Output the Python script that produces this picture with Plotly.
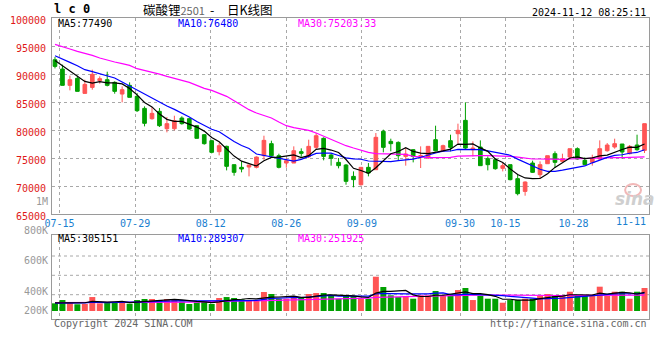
import plotly.graph_objects as go

# ---------------- data ----------------
DATES = ["07-12", "07-15", "07-16", "07-17", "07-18", "07-19", "07-22", "07-23", "07-24", "07-25",
         "07-26", "07-29", "07-30", "07-31", "08-01", "08-02", "08-05", "08-06", "08-07", "08-08",
         "08-09", "08-12", "08-13", "08-14", "08-15", "08-16", "08-19", "08-20", "08-21", "08-22",
         "08-23", "08-26", "08-27", "08-28", "08-29", "08-30", "09-02", "09-03", "09-04", "09-05",
         "09-06", "09-09", "09-10", "09-11", "09-12", "09-13", "09-18", "09-19", "09-20", "09-23",
         "09-24", "09-25", "09-26", "09-27", "09-30", "10-08", "10-09", "10-10", "10-11", "10-14",
         "10-15", "10-16", "10-17", "10-18", "10-21", "10-22", "10-23", "10-24", "10-25", "10-28",
         "10-29", "10-30", "10-31", "11-01", "11-04", "11-05", "11-06", "11-07", "11-08", "11-11"]

OPEN = [92550, 90890, 87970, 89220, 86540, 87610, 88800, 88980, 88510, 86420,
        87970, 86010, 83860, 82020, 83330, 80230, 80230, 82140, 82020, 80770,
        79160, 78090, 76130, 77080, 73810, 73330, 73390, 73330, 75410, 77560,
        75410, 74100, 74100, 76130, 75230, 76900, 78510, 75530, 74220, 73750,
        71720, 70230, 73330, 72910, 79760, 77970, 77790, 75290, 76480, 75290,
        75000, 78270, 76300, 78090, 79340, 81720, 76480, 76960, 74880, 74700,
        73150, 73810, 71310, 69040, 74100, 72020, 73980, 75770, 74400, 75170,
        76660, 74580, 74220, 74820, 76300, 76960, 77500, 75770, 77320, 76360]
HIGH = [93030, 91660, 89700, 89700, 88980, 90770, 89580, 90410, 88690, 87790,
        88510, 86600, 84220, 84100, 83920, 82320, 82550, 82440, 82140, 80890,
        79280, 78270, 77670, 77200, 73810, 74400, 73750, 75290, 78980, 78090,
        75770, 75000, 77080, 76720, 78270, 79460, 78690, 75830, 75000, 73920,
        72610, 73330, 74100, 79460, 80060, 78450, 77970, 76780, 76600, 77080,
        77080, 80770, 77380, 79160, 81130, 84940, 77970, 78150, 75290, 75000,
        74100, 73810, 72020, 70830, 74520, 74400, 75410, 76190, 75770, 76660,
        76900, 75110, 75590, 78150, 77670, 78450, 77500, 77320, 79160, 81130]
LOW = [91000, 87970, 87080, 86900, 86540, 87200, 88270, 87790, 86480, 84940,
       85830, 83210, 80650, 81840, 80530, 79580, 79940, 80950, 80050, 78510,
       77380, 75830, 75470, 72790, 71840, 72440, 71720, 73150, 74700, 75290,
       73150, 73270, 74100, 75230, 75000, 76600, 74580, 73630, 73150, 70230,
       69760, 70060, 71720, 72910, 76010, 76190, 74580, 73630, 74220, 73210,
       74820, 76190, 76130, 76190, 77560, 76600, 75290, 73630, 72790, 72910,
       72610, 71010, 68330, 68270, 72320, 71420, 73980, 73210, 74220, 74820,
       74700, 73810, 73630, 74700, 76130, 76660, 74880, 75650, 76300, 75890]
CLOSE = [91360, 87970, 88980, 86900, 88150, 89940, 89160, 87970, 86900, 87200,
         85830, 83450, 81190, 82970, 80770, 81130, 81660, 81130, 80170, 78510,
         77560, 76010, 77200, 73510, 72440, 73030, 73750, 75170, 78150, 75410,
         73330, 74520, 76300, 75830, 77080, 78980, 75290, 74940, 73630, 70830,
         71130, 73330, 72320, 78690, 76900, 77560, 75410, 75710, 75290, 75410,
         77080, 76300, 77200, 76900, 79940, 76780, 76780, 73630, 73810, 73090,
         73630, 71130, 68630, 70710, 72440, 73810, 75410, 74220, 74880, 76660,
         74820, 73810, 75000, 76660, 77320, 77560, 76070, 77080, 76480, 81130]

MA5 = [92430, 91480, 90470, 89580, 88670, 88390, 88630, 88420, 88420, 88230,
       87410, 86270, 84910, 84130, 82840, 81900, 81540, 81530, 80970, 80520,
       79800, 78670, 77890, 76560, 75340, 74440, 73980, 73580, 74510, 75100,
       75160, 75320, 75540, 75080, 75410, 76540, 76700, 76420, 75980, 74730,
       73160, 72770, 72250, 73260, 74470, 75760, 76170, 76850, 76170, 75880,
       75780, 75960, 76260, 76580, 77480, 77420, 77520, 76800, 76190, 74820,
       74190, 73060, 72060, 71440, 71300, 71340, 72200, 73320, 74150, 75000,
       75200, 74880, 75030, 75390, 75520, 76070, 76520, 76940, 76900, 77490]
MA10 = [93270, 92730, 92080, 91480, 90770, 90410, 90050, 89700, 89280, 88570,
        87850, 87170, 86340, 85750, 85030, 84290, 83680, 83070, 82340, 81520,
        80810, 80140, 79700, 78810, 77950, 77220, 76700, 75720, 75470, 75170,
        74900, 74610, 74450, 74750, 75280, 75810, 75890, 75880, 75440, 75030,
        74860, 74780, 74460, 74450, 74440, 74370, 74530, 74620, 74800, 75140,
        75560, 75890, 76220, 76250, 76550, 76540, 76610, 76480, 76280, 76020,
        75820, 75500, 74800, 74200, 73580, 72990, 72620, 72620, 72820, 73090,
        73240, 73580, 74140, 74640, 75100, 75460, 75580, 75850, 75990, 76480]
MA30 = [95290, 94930, 94460, 94040, 93690, 93330, 92850, 92440, 92140, 91840,
        91540, 90950, 90650, 90350, 89990, 89580, 89160, 88860, 88510, 87950,
        87440, 87080, 86600, 86010, 85230, 84460, 83630, 83030, 82560, 82140,
        81420, 80770, 80410, 80170, 79940, 79460, 78860, 78390, 77790, 77200,
        76780, 76360, 76010, 75770, 75770, 75710, 75710, 75650, 75290, 75110,
        75060, 75060, 75060, 75110, 75350, 75410, 75410, 75410, 75410, 75410,
        75350, 75290, 75170, 74940, 74820, 74820, 74760, 74700, 74760, 74820,
        74880, 74880, 74940, 75000, 75000, 75060, 75060, 75110, 75170, 75203.33]

VOLUME = [90000, 155000, 116000, 71000, 77000, 214000, 90000, 116000, 110000, 116000,
          82000, 155000, 175000, 175000, 155000, 175000, 155000, 122000, 77000, 110000,
          136000, 77000, 195000, 214000, 195000, 169000, 155000, 149000, 313000, 274000,
          181000, 181000, 214000, 195000, 274000, 293000, 293000, 234000, 181000, 248000,
          234000, 181000, 181000, 615000, 412000, 248000, 214000, 234000, 181000, 248000,
          248000, 333000, 234000, 274000, 352000, 392000, 155000, 234000, 181000, 181000,
          102000, 155000, 155000, 181000, 181000, 234000, 274000, 234000, 234000, 319000,
          234000, 234000, 248000, 418000, 234000, 319000, 319000, 181000, 319000, 392000]
VOL_MA5 = [100000, 102000, 104000, 102000, 101800, 126600, 113600, 113600, 121400, 129200,
           102800, 115800, 127600, 140600, 148400, 167000, 167000, 156400, 136800, 127800,
           120000, 104400, 119000, 146400, 163400, 170000, 185600, 176400, 196200, 212000,
           214400, 219600, 232600, 209000, 209000, 231400, 253800, 257800, 255000, 249800,
           238000, 215600, 205000, 291800, 324600, 327400, 334000, 344600, 257800, 225000,
           225000, 248800, 248800, 267400, 288200, 317000, 281400, 281400, 262800, 228600,
           170600, 170600, 154800, 154800, 154800, 181200, 205000, 220800, 231400, 259000,
           259000, 251000, 253800, 290600, 273600, 290600, 307600, 294200, 274400, 305151]
VOL_MA10 = [92000, 92000, 92000, 93000, 100000, 112000, 105000, 105000, 108000, 115500,
            114700, 114700, 120600, 131000, 138800, 134900, 141400, 142000, 138700, 138100,
            143500, 135700, 137700, 141600, 145600, 145000, 145000, 147700, 171300, 187700,
            192200, 202600, 204500, 202600, 210500, 222900, 236700, 245200, 232000, 229400,
            234700, 234700, 231400, 273400, 287200, 282700, 274800, 274800, 274800, 274800,
            276200, 291400, 296700, 262600, 256600, 271000, 265100, 265100, 265100, 258400,
            243800, 226000, 218100, 208800, 191700, 175900, 187800, 187800, 193100, 206900,
            220100, 228000, 237300, 261000, 266300, 274800, 279300, 274000, 282500, 289307]
VOL_MA30 = [102000, 102000, 103000, 103000, 104000, 104000, 105000, 105000, 106000, 106000,
            107000, 108000, 109000, 110000, 111000, 112000, 112000, 113000, 114000, 115000,
            118000, 121000, 124000, 127000, 130000, 133000, 136000, 139000, 143000, 147100,
            150100, 151000, 154300, 158400, 165000, 167600, 174400, 178300, 180700, 185100,
            190100, 191000, 191200, 205900, 214400, 216900, 218800, 222600, 226000, 230600,
            234400, 242900, 244200, 246200, 251400, 258900, 258900, 261700, 257300, 254200,
            251600, 250700, 248700, 248300, 245200, 243200, 242600, 242600, 244300, 246700,
            246700, 248500, 250700, 244100, 238200, 240600, 244100, 242300, 246900, 251925]

TICK_DATES = ["07-15", "07-29", "08-12", "08-26", "09-09", "09-30", "10-15", "10-28", "11-11"]
PRICE_TICKS = [65000, 70000, 75000, 80000, 85000, 90000, 95000, 100000]
VOL_LABELS = ["1M", "800K", "600K", "400K", "200K"]

TITLE_CODE = "l c 0"
TITLE_NAME = "碳酸锂"
TITLE_CONTRACT = "2501"
TITLE_DASH = "-"
TITLE_KIND = "日K线图"
TIMESTAMP = "2024-11-12 08:25:11"
MA_TEXT = ["MA5:77490", "MA10:76480", "MA30:75203.33"]
VOL_MA_TEXT = ["MA5:305151", "MA10:289307", "MA30:251925"]

# ---------------- styles / layout helpers ----------------
RED = "#ff5555"
GREEN = "#00a000"
GRID = "#a8a8a8"
BORDER = "#9a9a9a"
MONO = "DejaVu Sans Mono"
CJK = "Noto Sans CJK SC"
W, H = 660, 360
ML, MR, MT, MB = 50, 10, 18, 41
PW, PH = W - ML - MR, H - MT - MB


def px_x(x):
    return (x - ML) / PW


def px_y(y):
    return (H - MB - y) / PH


X_RANGE = [-0.4, len(DATES) - 0.4]
VOL_RANGE = [-219000, 1443000]
VOL_FLOOR = -61000

idx = list(range(len(DATES)))
n = len(DATES)
tick_idx = [DATES.index(d) for d in TICK_DATES]
tick_pos = [X_RANGE[0] + k * n / (n - 1) for k in tick_idx]
tick_txt = [d if k < n - 1 else "" for d, k in zip(TICK_DATES, tick_idx)]

fig = go.Figure()

fig.add_trace(go.Candlestick(
    x=idx, open=OPEN, high=HIGH, low=LOW, close=CLOSE,
    increasing=dict(line=dict(color=RED, width=1), fillcolor=RED),
    decreasing=dict(line=dict(color=GREEN, width=1), fillcolor=GREEN),
    whiskerwidth=0, xaxis="x", yaxis="y", hoverinfo="skip"))

for vals, col in [(MA30, "#ff00ff"), (MA10, "#0000ff"), (MA5, "#000000")]:
    fig.add_trace(go.Scatter(x=idx, y=vals, mode="lines", line=dict(color=col, width=1.2),
                             xaxis="x", yaxis="y", hoverinfo="skip"))

vol_colors = [RED if c >= o else GREEN for o, c in zip(OPEN, CLOSE)]
fig.add_trace(go.Bar(x=idx, y=[v - VOL_FLOOR for v in VOLUME], base=VOL_FLOOR,
                     marker=dict(color=vol_colors, line=dict(width=0)), width=0.8,
                     xaxis="x2", yaxis="y2", hoverinfo="skip"))
for vals, col in [(VOL_MA30, "#ff00ff"), (VOL_MA10, "#0000ff"), (VOL_MA5, "#000000")]:
    fig.add_trace(go.Scatter(x=idx, y=vals, mode="lines", line=dict(color=col, width=1.2),
                             xaxis="x2", yaxis="y2", hoverinfo="skip"))

main_bottom = px_y(214)
vol_top = px_y(234.7)

axis_common = dict(showline=True, mirror=True, linecolor=BORDER, linewidth=1,
                   zeroline=False, ticks="", fixedrange=True)

fig.update_layout(
    width=W, height=H, margin=dict(l=ML, r=MR, t=MT, b=MB, pad=0),
    paper_bgcolor="white", plot_bgcolor="white", showlegend=False, hovermode=False,
    boxgap=0.3, barmode="overlay",
    xaxis=dict(domain=[0, 1], anchor="y", range=X_RANGE, tickmode="array",
               tickvals=tick_pos, ticktext=tick_txt, showgrid=True, gridcolor=GRID,
               griddash="dot", gridwidth=1,
               tickfont=dict(family=MONO, size=10, color="#1a80d0"),
               rangeslider=dict(visible=False), **axis_common),
    yaxis=dict(domain=[main_bottom, 1], anchor="x", range=[PRICE_TICKS[0], PRICE_TICKS[-1]],
               tickmode="array", tickvals=PRICE_TICKS, ticktext=[str(t) for t in PRICE_TICKS],
               showgrid=True, gridcolor=GRID, griddash="dot", gridwidth=1,
               tickfont=dict(family=MONO, size=10, color="#e01818"),
               ticklabelshift=2, ticklabelstandoff=3, **axis_common),
    xaxis2=dict(domain=[0, 1], anchor="y2", matches="x", range=X_RANGE, tickmode="array",
                tickvals=tick_pos, showticklabels=False, showgrid=True, gridcolor=GRID,
                griddash="dot", gridwidth=1, **axis_common),
    yaxis2=dict(domain=[0, vol_top], anchor="x2", range=VOL_RANGE, showticklabels=False,
                showgrid=False, **axis_common),
)

shapes = []
for ypix in [256, 275.3, 294.7]:
    shapes.append(dict(type="line", xref="paper", yref="paper", x0=0, x1=1,
                       y0=px_y(ypix), y1=px_y(ypix), layer="below",
                       line=dict(color=GRID, width=1, dash="dot")))
# faint sina logo eye
shapes.append(dict(type="circle", xref="paper", yref="paper",
                   x0=px_x(626), x1=px_x(642), y0=px_y(196), y1=px_y(184),
                   line=dict(color="#f2b8b8", width=2), layer="below"))
fig.update_layout(shapes=shapes)

ann = []


def note(text, x, y, xanchor="left", color="#000", size=10, family=MONO, **kw):
    ann.append(dict(text=text, x=px_x(x), y=px_y(y), xref="paper", yref="paper",
                    xanchor=xanchor, yanchor="middle", showarrow=False,
                    font=dict(family=family, size=size, color=color), **kw))


note("<b>" + TITLE_CODE + "</b>", 50, 9, size=12)
note(TITLE_NAME + "<span style='color:#666;font-size:11px'>" + TITLE_CONTRACT + "</span>",
     139, 9.5, size=12.5, family=CJK)
note(TITLE_DASH, 210.5, 9.5, xanchor="center", size=12.5, family=CJK)
note(TITLE_KIND, 223.5, 9.5, size=12.5, family=CJK)
note(TIMESTAMP, 649, 12, xanchor="right")
for t, x0, col in zip(MA_TEXT, [54, 175, 295], ["#000", "#0000ff", "#ff00ff"]):
    note(t, x0, 23.7, color=col)
for t, x0, col in zip(VOL_MA_TEXT, [54, 175, 295], ["#000", "#0000ff", "#ff00ff"]):
    note(t, x0, 238.5, color=col)
for t, y0 in zip(VOL_LABELS, [201, 230.3, 260.3, 291, 310.3]):
    note(t, 47.5, y0, xanchor="right", color="#999")
note(TICK_DATES[-1], 649, 221, xanchor="right", color="#1a80d0")
note("Copyright 2024 SINA.COM", 49.5, 323.3, color="#666")
note("http://finance.sina.com.cn", 650, 323.3, xanchor="right", color="#666")
note("<b><i>sina</i></b>", 636, 199, xanchor="center", color="#cfcfcf", size=17,
     family="DejaVu Sans")
fig.update_layout(annotations=ann)

fig.write_html("out.html", config={"displayModeBar": False, "staticPlot": True},
               post_script="document.body.style.margin='0';document.body.style.padding='0';")
